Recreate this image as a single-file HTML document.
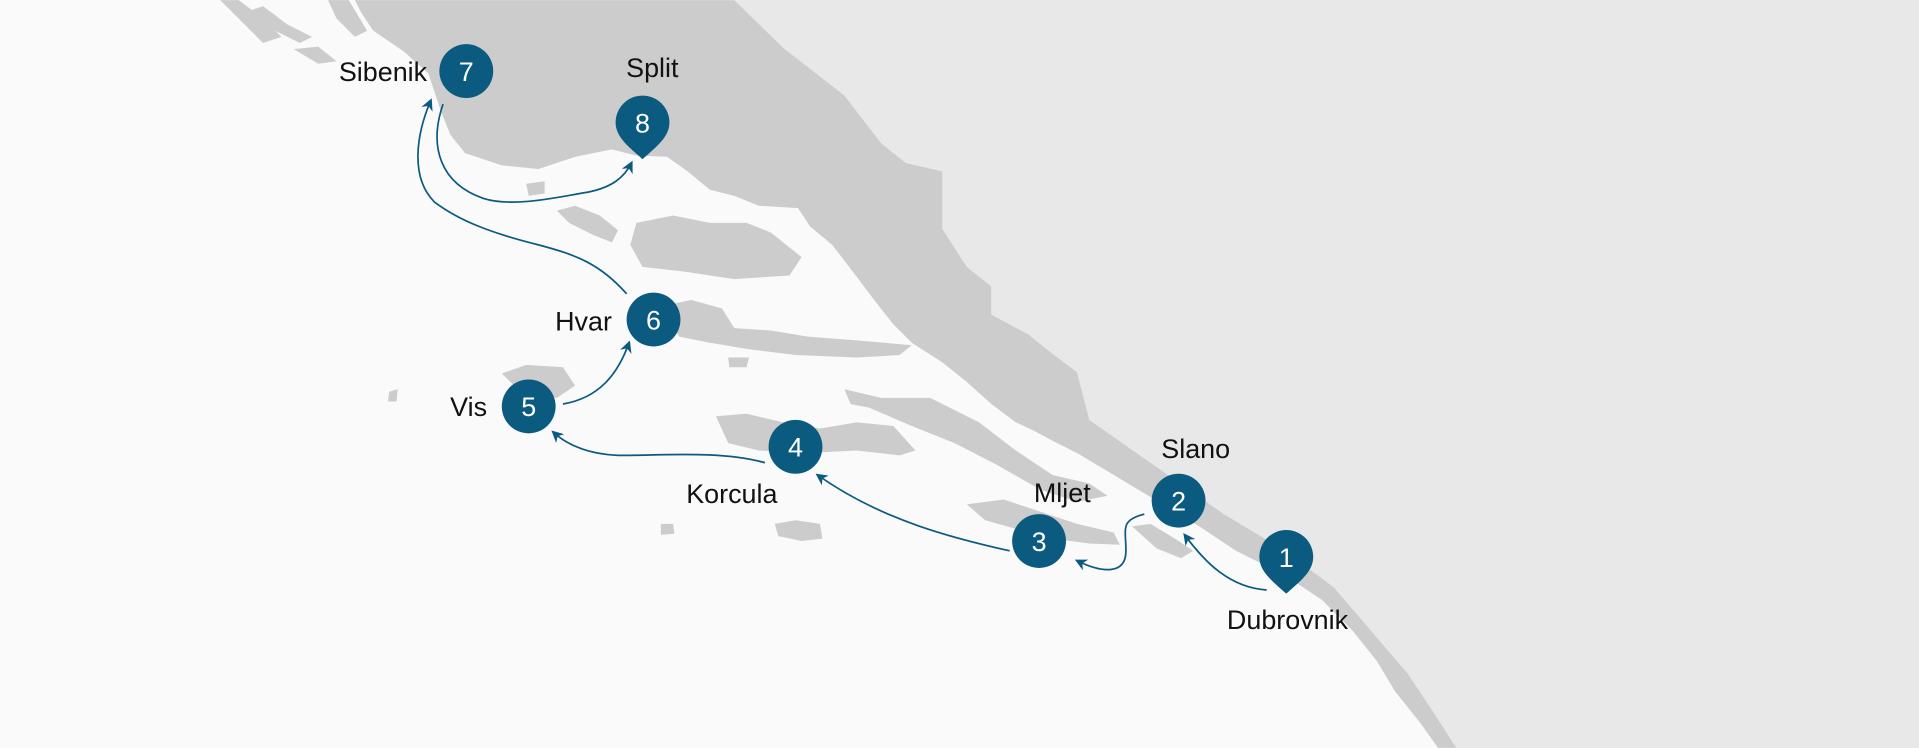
<!DOCTYPE html>
<html><head><meta charset="utf-8"><style>
html,body{margin:0;padding:0;background:#fafafa;}
svg{display:block;}
text{font-family:"Liberation Sans",sans-serif;}
</style></head><body>
<svg width="1919" height="748" viewBox="0 0 1568 611" xmlns="http://www.w3.org/2000/svg">
<defs>
<marker id="a" viewBox="0 0 10 10" refX="8" refY="5" markerWidth="7" markerHeight="7" orient="auto-start-reverse">
<path d="M0,0 L10,5 L0,10 L3,5 z" fill="#0b5a80"/></marker>
</defs>
<rect width="1568" height="611" fill="#fafafa"/>
<!-- light inland -->
<polygon points="600,0 1568,0 1568,611 1190,611 1170,580 1150,550 1120,515 1090,480 1050,450 1000,420 950,385 900,350 890,343 880,304 860,289 840,273 810,257 810,234 790,218 770,187 770,140 740,133 720,117 690,78 640,39" fill="#e8e8e8"/>
<!-- dark mainland -->
<polygon points="290,0 600,0 640,39 690,78 720,117 740,133 770,140 770,187 790,218 810,234 810,257 840,273 860,289 880,304 890,343 900,350 950,385 1000,420 1050,450 1090,480 1120,515 1150,550 1170,580 1190,611 1175,611 1160,590 1140,565 1125,540 1105,515 1080,490 1050,470 1010,450 980,430 955,415 930,400 905,385 880,370 860,360 845,352 830,345 810,330 790,312 770,296 745,280 730,265 715,246 700,226 680,200 662,185 652,170 620,168 600,160 580,155 562,140 545,128 520,127 500,122 470,128 440,138 410,135 380,125 368,110 360,90 350,60 330,42 305,25 295,10" fill="#cccccc"/>
<!-- Peljesac -->
<polygon points="690,318 720,325 760,325 800,345 830,368 860,388 890,395 905,405 880,410 850,400 815,380 780,362 745,348 710,333 695,330" fill="#cccccc"/>
<!-- islands -->
<polygon points="520,182 550,176 580,182 610,182 630,190 655,210 645,225 600,228 560,222 525,218 515,200" fill="#cccccc"/>
<polygon points="455,172 470,168 490,176 505,188 500,198 485,192 465,182" fill="#cccccc"/>
<polygon points="540,250 565,245 590,252 600,268 630,270 660,275 700,278 745,282 735,290 700,292 650,290 610,285 580,280 555,275" fill="#cccccc"/>
<polygon points="585,340 610,338 640,345 670,350 700,345 730,348 748,368 735,372 700,368 660,370 620,368 595,362" fill="#cccccc"/>
<polygon points="790,412 820,408 850,418 880,428 910,435 915,445 890,444 860,440 830,432 805,425" fill="#cccccc"/>
<polygon points="410,305 430,298 460,300 470,315 455,325 425,320" fill="#cccccc"/>
<polygon points="633,428 650,425 670,428 672,440 655,442 636,438" fill="#cccccc"/>
<polygon points="540,428 550,428 551,436 540,437" fill="#cccccc"/>
<polygon points="925,430 940,428 960,440 975,450 965,456 945,448" fill="#cccccc"/>
<polygon points="595,292 612,292 610,300 596,300" fill="#cccccc"/>
<polygon points="180,0 195,0 215,15 230,30 215,35 195,15" fill="#cccccc"/>
<polygon points="200,10 215,5 235,20 255,30 245,35 225,25" fill="#cccccc"/>
<polygon points="240,40 260,38 275,50 260,52" fill="#cccccc"/>
<polygon points="268,0 285,0 300,25 290,30 275,15" fill="#cccccc"/>
<polygon points="430,150 445,148 445,158 432,160" fill="#cccccc"/>
<polygon points="318,320 325,318 324,328 317,328" fill="#cccccc"/>
<!-- routes -->
<g fill="none" stroke="#0b5a80" stroke-width="1.4">
<path d="M1035,482 C1005,480 985,460 968,437" marker-end="url(#a)"/>
<path d="M935,420 C915,425 920,432 920,450 C920,470 900,468 880,458" marker-end="url(#a)"/>
<path d="M825,450 C780,440 720,425 668,388" marker-end="url(#a)"/>
<path d="M625,378 C590,368 540,372 510,372 C485,372 465,365 452,353" marker-end="url(#a)"/>
<path d="M460,330 C490,325 505,305 514,280" marker-end="url(#a)"/>
<path d="M512,240 C490,215 470,208 440,200 C400,190 375,180 355,165 C335,145 340,110 352,82" marker-end="url(#a)"/>
<path d="M362,85 C350,120 360,150 395,162 C420,170 460,160 480,157 C500,153 510,145 516,133" marker-end="url(#a)"/>
</g>
<!-- markers -->
<g fill="#0b5a80">
<circle cx="381" cy="58" r="22"/>
<path d="M503,100 A22,22 0 1 1 547,100 C547,112 536,120 525,130 C514,120 503,112 503,100 z"/>
<circle cx="534" cy="261" r="22"/>
<circle cx="432" cy="332" r="22"/>
<circle cx="650" cy="365" r="22"/>
<circle cx="849" cy="442" r="22"/>
<circle cx="963" cy="409" r="22"/>
<path d="M1029,455 A22,22 0 1 1 1073,455 C1073,467 1062,475 1051,485 C1040,475 1029,467 1029,455 z"/>
</g>
<g fill="#fff" font-size="22" text-anchor="middle">
<text x="381" y="66">7</text><text x="525" y="108">8</text><text x="534" y="269">6</text>
<text x="432" y="340">5</text><text x="650" y="373">4</text><text x="849" y="450">3</text>
<text x="963" y="417">2</text><text x="1051" y="463">1</text>
</g>
<g fill="#111" font-size="22">
<text x="349" y="66" text-anchor="end">Sibenik</text>
<text x="533" y="63" text-anchor="middle">Split</text>
<text x="500" y="270" text-anchor="end">Hvar</text>
<text x="398" y="340" text-anchor="end">Vis</text>
<text x="598" y="411" text-anchor="middle">Korcula</text>
<text x="868" y="410" text-anchor="middle">Mljet</text>
<text x="977" y="374" text-anchor="middle">Slano</text>
<text x="1052" y="514" text-anchor="middle">Dubrovnik</text>
</g>
</svg>
</body></html>
